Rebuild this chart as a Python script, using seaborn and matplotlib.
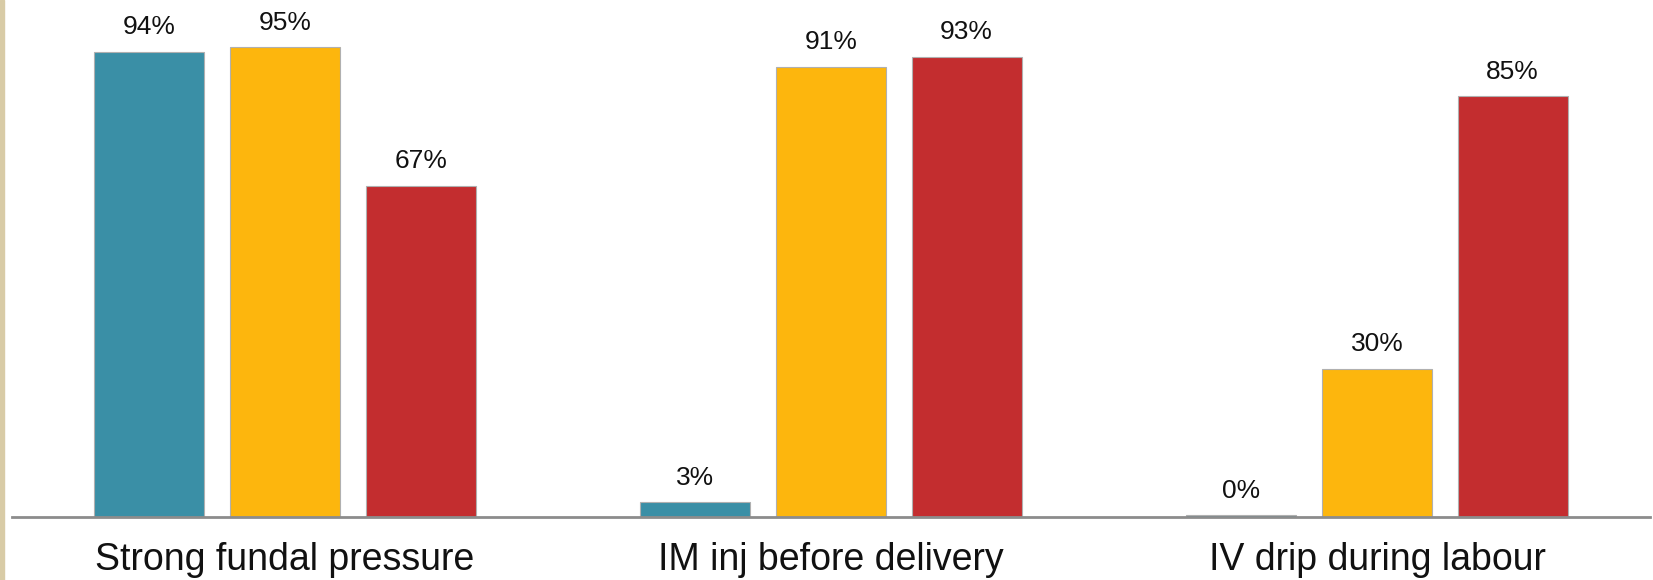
import matplotlib.pyplot as plt
import matplotlib.patches as mpatches
import seaborn as sns
import pandas as pd

sns.set_theme(style="white")
plt.rcParams['font.family'] = ['Liberation Sans', 'DejaVu Sans']

# data
practices = ["Strong fundal pressure", "IM inj before delivery", "IV drip during labour"]
groups = ["Group A", "Group B", "Group C"]
group_a = [94, 3, 0.4]
group_b = [95, 91, 30]
group_c = [67, 93, 85]
colors = ["#3A8FA6", "#FDB60D", "#C32D2F"]

df = pd.DataFrame({
    "practice": practices * 3,
    "group": [g for g in groups for _ in practices],
    "pct": group_a + group_b + group_c,
})

fig = plt.figure(figsize=(16.53, 5.80), dpi=100)
ax = fig.add_axes([12 / 1653, 63 / 580, 1638 / 1653, 517 / 580])

sns.barplot(data=df, x="practice", y="pct", hue="group", order=practices,
            hue_order=groups, palette=colors, width=0.745, gap=0.19,
            edgecolor="#B0B0B0", linewidth=0.8, saturation=1, ax=ax, legend=False)

for cont in ax.containers:
    ax.bar_label(cont, labels=[f"{v:.0f}%" for v in cont.datavalues],
                 padding=9, fontsize=19, color="#111111")

ax.set_xlim(-0.5, 2.5)
ax.set_ylim(0, 104.5)
ax.set_xlabel("")
ax.set_ylabel("")
ax.set_yticks([])
ax.tick_params(axis="x", length=0, pad=18, labelsize=27, labelcolor="#111111")
for s in ["top", "right", "left"]:
    ax.spines[s].set_visible(False)
ax.spines["bottom"].set_color("#8C8C8C")
ax.spines["bottom"].set_linewidth(2)

# beige slide border on the left edge
fig.patches.append(mpatches.Rectangle((0, 0), 4 / 1653, 1, transform=fig.transFigure,
                                      color="#D8CBA6", zorder=0))

fig.savefig("out.png", dpi=100)
